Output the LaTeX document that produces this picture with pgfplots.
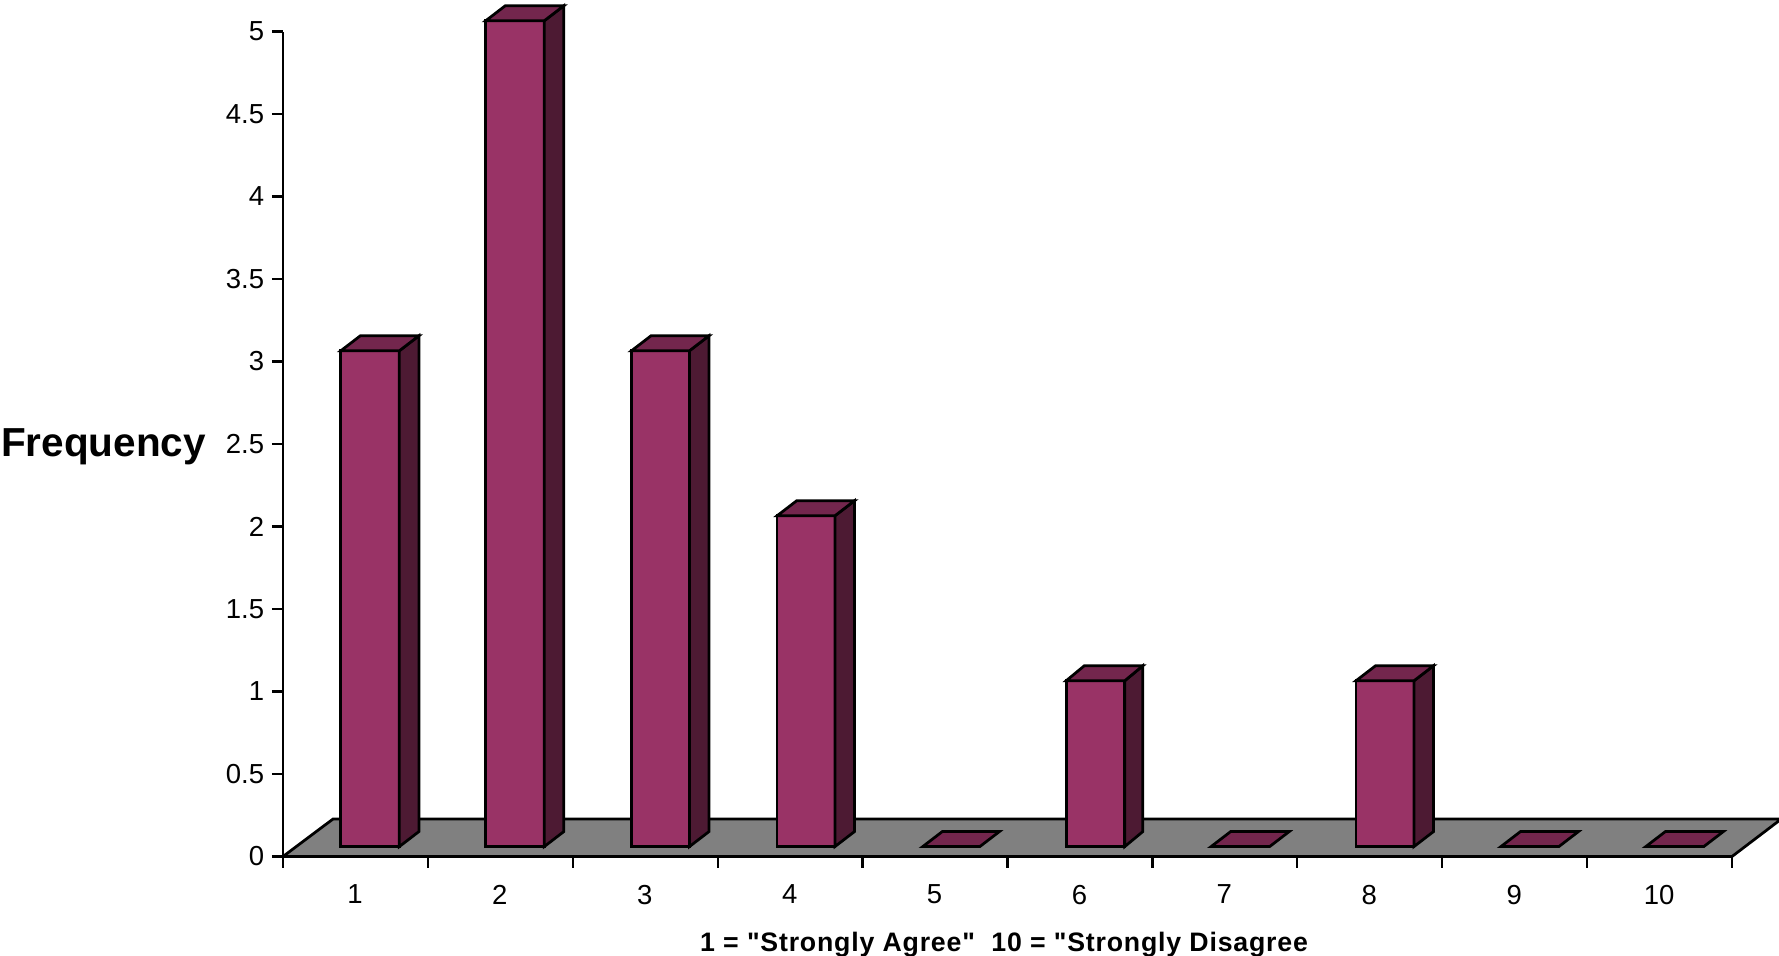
\documentclass[border=0pt]{standalone}
\usepackage{pgfplots}
\pgfplotsset{compat=1.18}
\usepackage{fontspec}
\setmainfont{Liberation Sans}[Ligatures=TeXOff]
\definecolor{barfront}{HTML}{993366}
\definecolor{barside}{HTML}{4D1A33}
\definecolor{bartop}{HTML}{73264D}
\definecolor{floorgrey}{HTML}{808080}
\pgfplotsset{
  facebase/.style={draw=black,line width=1.1pt,line join=miter,mark=none,forget plot},
}
% #1 left, #2 right, #3 back left, #4 back right, #5 front top, #6 back top
\newcommand{\threedbar}[6]{%
  \addplot[facebase,fill=barfront] coordinates {(#1,0.06)(#2,0.06)(#2,#5)(#1,#5)} -- cycle;
  \addplot[facebase,fill=barside] coordinates {(#2,0.06)(#4,0.151)(#4,#6)(#2,#5)} -- cycle;
  \addplot[facebase,fill=bartop] coordinates {(#1,#5)(#2,#5)(#4,#6)(#3,#6)} -- cycle;
}
\newcommand{\flatbar}[4]{%
  \addplot[facebase,fill=bartop] coordinates {(#1,0.06)(#2,0.06)(#4,0.151)(#3,0.151)} -- cycle;
}
\begin{document}
\begin{tikzpicture}[x=1pt,y=1pt]
\useasboundingbox (-113.2pt,-39.8pt) rectangle (598.4pt,342.6pt);
\begin{axis}[
  at={(0pt,0pt)},anchor=origin,
  scale only axis,
  width=579.6pt,height=330pt,
  xmin=0,xmax=10,ymin=0,ymax=5,
  clip=false,
  axis x line=bottom,axis y line=left,
  axis line style={-,line width=0.95pt},
  tick style={black,line width=0.95pt},
  tick align=outside,
  major tick length=4.4pt,
  minor tick length=4.4pt,
  xtick={0.5,1.5,2.5,3.5,4.5,5.5,6.5,7.5,8.5,9.5},
  xticklabels={1,2,3,4,5,6,7,8,9,10},
  x tick style={draw=none},
  minor xtick={0,1,2,3,4,5,6,7,8,9,10},
  minor x tick style={draw=black,line width=0.95pt},
  ytick={0,0.5,1,1.5,2,2.5,3,3.5,4,4.5,5},
  yticklabels={0,0.5,1,1.5,2,2.5,3,3.5,4,4.5,5},
  tick label style={font=\fontsize{11}{13}\selectfont},
  xticklabel style={yshift=-3.4pt,xshift=-0.2pt},
  yticklabel style={xshift=0.4pt},
  xlabel={\addfontfeature{LetterSpace=3}1 = "Strongly Agree"\ \ 10 = "Strongly Disagree},
  xlabel style={at={(axis description cs:0.4976,-0.1065)},anchor=center,font=\fontsize{10.68}{12}\selectfont\bfseries},
  ylabel={Frequency},
  ylabel style={at={(axis description cs:-0.1239,0.4962)},anchor=center,rotate=-90,font=\fontsize{16.2}{18}\selectfont\bfseries},
]
\addplot[facebase,fill=floorgrey] coordinates {(0,0)(10,0)(10.34,0.227)(0.345,0.227)} -- cycle;
\threedbar{0.399}{0.803}{0.534}{0.938}{3.065}{3.156}
\threedbar{1.399}{1.803}{1.534}{1.938}{5.065}{5.156}
\threedbar{2.405}{2.805}{2.540}{2.940}{3.065}{3.156}
\threedbar{3.410}{3.809}{3.545}{3.944}{2.065}{2.156}
\flatbar{4.415}{4.809}{4.550}{4.944}
\threedbar{5.405}{5.809}{5.530}{5.934}{1.065}{1.156}
\flatbar{6.405}{6.809}{6.540}{6.944}
\threedbar{7.405}{7.805}{7.540}{7.940}{1.065}{1.156}
\flatbar{8.405}{8.805}{8.540}{8.940}
\flatbar{9.405}{9.805}{9.540}{9.940}
\end{axis}
\end{tikzpicture}
\end{document}
